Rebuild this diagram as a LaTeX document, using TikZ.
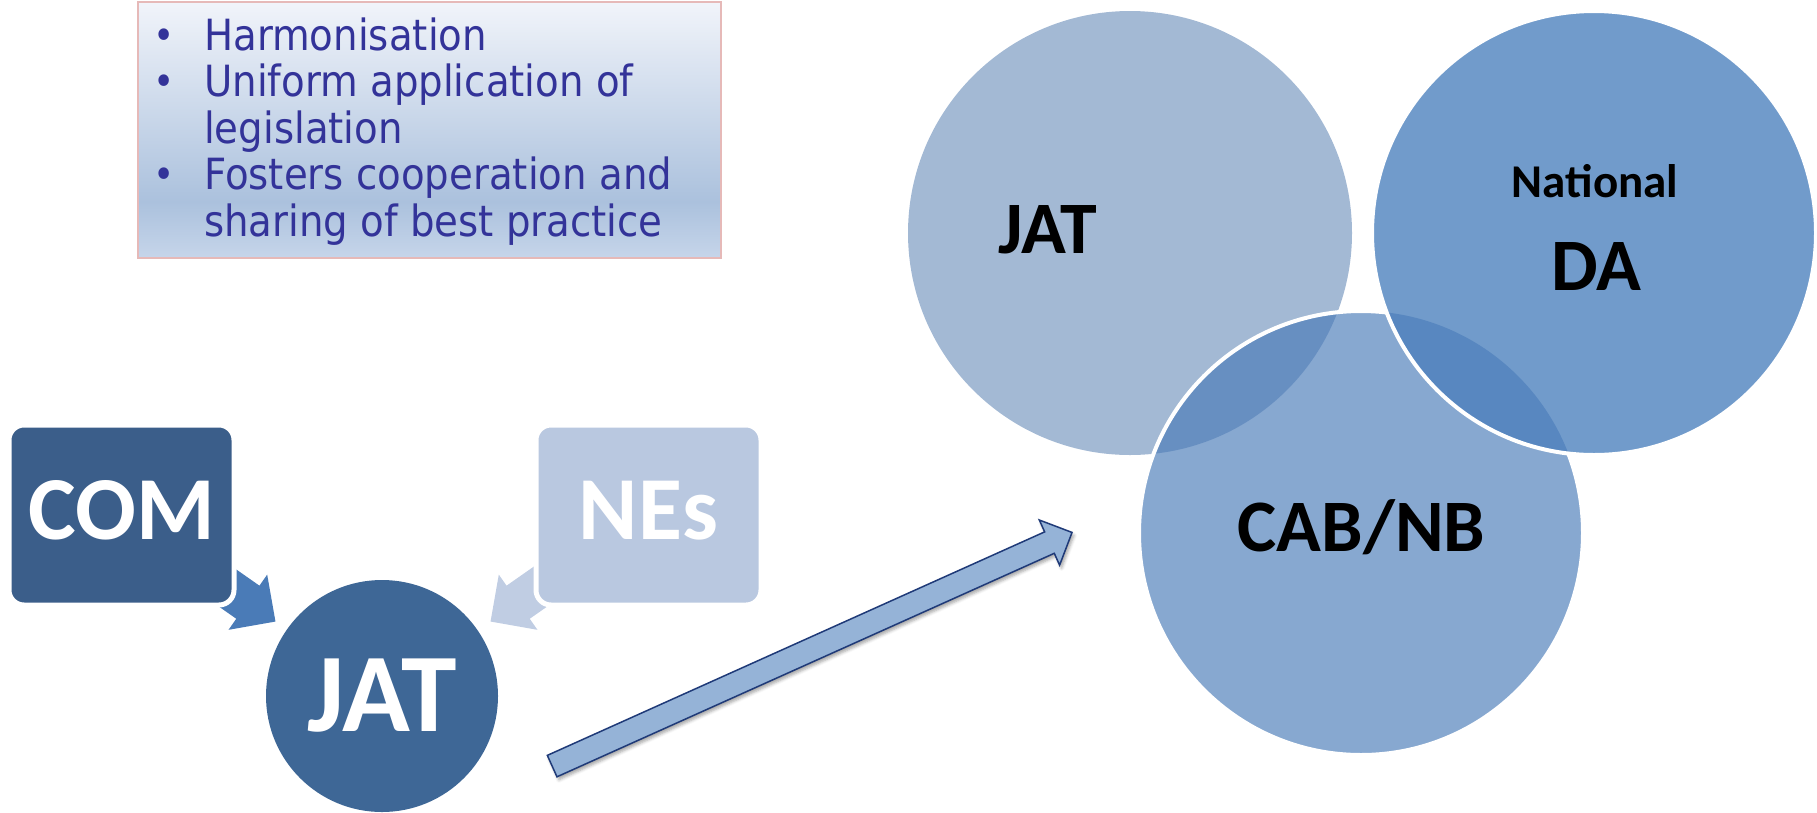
\documentclass[tikz,border=0pt]{standalone}
\usepackage{fontspec}
\usetikzlibrary{shapes.arrows,shadows.blur}
\newfontfamily\listfont{DejaVu Sans}[FakeStretch=0.9]
\newfontfamily\labelfont{Carlito}

\definecolor{listblue}{HTML}{333399}
\definecolor{boxtop}{HTML}{F1F4FA}
\definecolor{boxmid}{HTML}{ABC1DD}
\definecolor{boxbot}{HTML}{C6D5EA}
\definecolor{boxedge}{HTML}{E6B9B8}
\definecolor{comblue}{HTML}{3B5E8A}
\definecolor{nesblue}{HTML}{B9C8E0}
\definecolor{jatblue}{HTML}{3E6796}
\definecolor{comarrow}{HTML}{4A7BB7}
\definecolor{nesarrow}{HTML}{C0CDE3}
\definecolor{pushfill}{HTML}{95B3D7}
\definecolor{pushedge}{HTML}{1F3A78}
\definecolor{vjat}{HTML}{A3B9D4}
\definecolor{vcab}{HTML}{87A8D0}
\definecolor{vda}{HTML}{719BCB}
\definecolor{vjatcab}{HTML}{678FC1}
\definecolor{vdacab}{HTML}{5887C0}

% panel background: light at the top, darkest near the lower fifth
\pgfdeclareverticalshading{panelshade}{100bp}{color(0bp)=(boxbot); color(25bp)=(boxbot); color(36bp)=(boxmid); color(75bp)=(boxtop); color(100bp)=(boxtop)}

\newcommand\bul{\raisebox{1pt}{\fontsize{40}{40}\selectfont\textbullet}}

\tikzset{
  actorbox/.style={rounded corners=15pt, draw=white, line width=5pt, inner sep=0pt,
    minimum width=225pt, minimum height=180pt, text depth=10pt, text=white,
    font=\labelfont\bfseries\fontsize{90}{90}\selectfont},
  feeder/.style={single arrow, inner xsep=0pt, inner ysep=20pt, minimum height=80pt,
    single arrow head extend=13.5pt, anchor=tip},
  vcircle/.style={circle, inner sep=0pt, minimum size=444pt},
  ring/.style={draw=white, line width=4pt},
  venntext/.style={anchor=base, text=black, inner sep=0pt,
    font=\labelfont\bfseries\fontsize{74}{74}\selectfont},
}

\begin{document}
\begin{tikzpicture}[x=1pt, y=-1pt]
\useasboundingbox (0,0) rectangle (1817,812);

% ---- objectives panel ----
\node[draw=boxedge, line width=2pt, shading=panelshade, anchor=north west,
      inner sep=0pt, minimum width=583pt, minimum height=256pt] (panel) at (137,1) {};
\node[anchor=base west, inner sep=0pt, text=listblue,
      font=\listfont\fontsize{43}{46.5}\selectfont] (points) at (153,50)
  {\begin{tabular}[t]{@{}p{51pt}@{}l@{}}
   \bul & Harmonisation\\
   \bul & Uniform application of\\
        & legislation\\
   \bul & Fosters cooperation and\\
        & sharing of best practice
   \end{tabular}};

% ---- contributors feeding the team ----
\node[feeder, fill=comarrow, rotate=-35] (comarr) at (275.7,621.7) {};
\node[feeder, fill=nesarrow, rotate=-145] (nesarr) at (490.3,621.7) {};
\node[actorbox, fill=comblue, anchor=north west] (com) at (6.5,422.5) {COM};
\node[actorbox, fill=nesblue, anchor=north west] (nes) at (533.5,422.5) {NEs};
\node[circle, fill=jatblue, inner sep=0pt, minimum size=232pt, text=white,
      font=\labelfont\bfseries\fontsize{112}{112}\selectfont] (jat) at (382,696) {JAT};

% ---- long arrow towards the assessment ----
\coordinate (pushtip) at (1073,532);
\node[single arrow, draw=pushedge, line width=1.5pt, fill=pushfill,
      inner xsep=0pt, inner ysep=11pt, minimum height=570pt,
      single arrow head extend=13pt, rotate=24.2, anchor=tip,
      blur shadow={shadow xshift=2pt, shadow yshift=-3pt, shadow blur radius=3pt, shadow opacity=35}]
      (push) at (pushtip) {};

% ---- Venn of the assessment partners ----
\node[vcircle, fill=vjat] (vjat) at (1130,233) {};
\node[vcircle, fill=vcab] (vcab) at (1361,533) {};
\begin{scope}
  \clip (vjat.center) circle[radius=222pt];
  \fill[vjatcab] (vcab.center) circle[radius=222pt];
\end{scope}
\draw[ring] (vcab.center) circle[radius=222pt];
\node[vcircle, fill=vda] (vda) at (1594,233) {};
\begin{scope}
  \clip (vcab.center) circle[radius=222pt];
  \fill[vdacab] (vda.center) circle[radius=222pt];
\end{scope}
\draw[ring] (vda.center) circle[radius=222pt];

\node[venntext] (tjat) at (1048,253) {JAT};
\node[venntext, font=\labelfont\bfseries\fontsize{47}{47}\selectfont] (tnat) at (1595,197) {National};
\node[venntext] (tda) at (1596,290) {DA};
\node[venntext] (tcab) at (1361.5,551) {CAB/NB};
\end{tikzpicture}
\end{document}
